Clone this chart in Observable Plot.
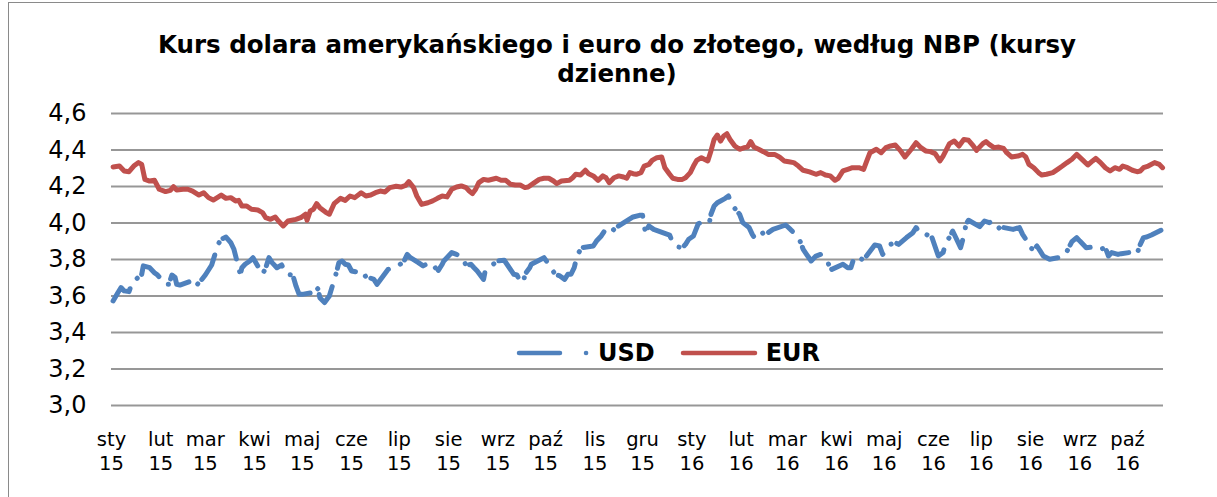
<!DOCTYPE html>
<html>
<head>
<meta charset="utf-8">
<script src="https://cdn.jsdelivr.net/npm/d3@7"></script>
<script src="https://cdn.jsdelivr.net/npm/@observablehq/plot@0.6"></script>
<style>
  html, body { margin: 0; padding: 0; background: #fff; }
  #wrap { position: relative; width: 1217px; height: 497px; overflow: hidden; background: #fff; }
  #frame { position: absolute; left: 8px; top: 2px; width: 1210px; height: 500px; border-left: 1px solid #8a8a8a; border-top: 1px solid #8a8a8a; box-sizing: border-box; pointer-events: none; }
  #title { position: absolute; left: 17px; top: 30px; width: 1200px; text-align: center; font-family: "DejaVu Sans", Verdana, sans-serif; font-weight: bold; font-size: 24.5px; line-height: 29px; color: #000; }
  #chart { position: absolute; left: 0; top: 90px; }
  #legend { position: absolute; top: 339px; left: 515px; font-family: "DejaVu Sans", Verdana, sans-serif; font-weight: bold; font-size: 24px; color: #000; display: flex; align-items: center; }
  #legend .item { display: flex; align-items: center; }
  #legend svg { display: block; }
</style>
</head>
<body>
<div id="wrap">
  <div id="title">Kurs dolara amerykańskiego i euro do złotego, według NBP (kursy<br>dzienne)</div>
  <div id="chart"></div>
  <div id="legend"></div>
  <div id="frame"></div>
</div>
<script>
// ---- data (days counted from 1 Jan 2015, rates in PLN) ----
const seriesNames = ["USD", "EUR"];
const seriesColors = ["#4F81BD", "#C0504D"];

const usdDay = [1,4,6,8,11,13,19,20,24,27,29,34,36,38,40,41,43,53,54,56,59,63,67,69,72,75,77,81,82,84,87,89,95,97,99,101,104,107,110,114,116,118,120,126,128,130,131,134,137,141,143,145,147,149,151,156,158,160,162,165,167,174,178,181,184,186,188,193,196,200,203,205,208,209,214,217,221,223,226,228,230,234,235,238,240,243,247,253,255,257,259,260,263,264,272,275,277,279,282,285,287,289,291,293,296,303,305,308,310,312,315,317,319,328,332,334,335,336,338,341,351,353,356,359,361,363,366,369,373,376,377,379,381,386,388,390,393,395,397,401,403,405,407,410,413,416,424,427,429,431,433,435,437,440,443,446,449,451,453,460,463,465,467,469,472,474,480,483,485,487,490,493,495,500,504,506,509,512,515,516,520,523,525,527,529,534,536,537,538,539,546,549,552,555,557,559,561,567,571,573,575,577,580,582,584,586,590,598,600,602,604,607,609,612,613,619,622,625,627,629,633,635,640,643,645,647,649,651,654,660];
const usdRate = [3.573,3.618,3.646,3.628,3.624,3.673,3.719,3.765,3.755,3.728,3.715,3.664,3.664,3.715,3.701,3.664,3.660,3.691,3.664,3.682,3.715,3.770,3.883,3.911,3.923,3.892,3.856,3.719,3.755,3.774,3.792,3.810,3.719,3.755,3.810,3.783,3.755,3.770,3.719,3.715,3.655,3.609,3.609,3.618,3.655,3.637,3.591,3.564,3.600,3.715,3.783,3.792,3.774,3.770,3.737,3.728,3.701,3.710,3.701,3.691,3.664,3.746,3.759,3.770,3.792,3.828,3.810,3.783,3.765,3.783,3.765,3.733,3.774,3.792,3.838,3.828,3.810,3.765,3.774,3.755,3.737,3.691,3.737,3.755,3.774,3.792,3.796,3.719,3.715,3.682,3.673,3.719,3.755,3.774,3.810,3.774,3.746,3.719,3.710,3.691,3.719,3.719,3.755,3.828,3.865,3.874,3.901,3.929,3.956,3.938,3.956,3.975,3.984,4.033,4.042,4.042,3.975,3.956,3.984,3.965,3.934,3.892,3.869,3.865,3.883,3.911,3.929,3.996,4.011,4.002,4.048,4.093,4.111,4.135,4.148,4.102,4.069,4.048,4.002,3.975,3.938,3.911,3.929,3.947,3.947,3.965,3.989,3.965,3.947,3.929,3.901,3.856,3.830,3.792,3.819,3.828,3.810,3.774,3.746,3.774,3.755,3.755,3.810,3.819,3.801,3.810,3.880,3.874,3.828,3.847,3.883,3.892,3.883,3.920,3.947,3.975,3.938,3.938,3.929,3.920,3.819,3.838,3.901,3.920,3.956,3.865,3.929,3.975,4.002,4.015,3.980,4.011,4.002,4.011,3.984,3.965,3.975,3.965,3.975,3.938,3.911,3.865,3.856,3.874,3.847,3.819,3.801,3.814,3.828,3.865,3.898,3.920,3.901,3.874,3.865,3.869,3.856,3.865,3.819,3.838,3.828,3.832,3.838,3.847,3.832,3.883,3.920,3.923,3.934,3.960];

const eurDay = [1,5,8,11,14,17,19,21,24,27,30,34,37,39,41,45,48,51,55,58,61,64,69,72,75,78,80,82,85,88,92,95,97,100,103,105,108,111,116,119,122,123,125,127,129,131,135,137,140,144,147,150,153,157,160,163,166,169,172,175,179,182,185,187,190,192,195,199,202,205,208,211,214,217,220,223,225,227,229,231,234,237,242,245,248,251,254,257,260,262,266,269,272,275,278,280,283,288,290,292,295,298,300,303,306,309,311,313,316,319,322,324,326,328,330,333,335,338,340,343,346,348,351,353,356,359,361,364,366,368,371,375,377,379,381,383,385,387,389,392,395,398,400,402,404,407,410,413,417,420,423,426,429,432,435,439,443,446,449,452,455,457,460,463,466,470,473,475,477,481,484,487,490,493,496,499,503,506,509,512,515,518,521,523,527,530,533,536,539,542,544,548,550,552,555,558,561,563,566,570,573,575,577,580,583,585,588,592,595,598,601,604,607,611,614,617,619,622,625,628,631,634,636,639,642,645,647,649,652,656,659,661];
const eurRate = [4.307,4.312,4.285,4.281,4.312,4.331,4.321,4.239,4.230,4.234,4.185,4.172,4.179,4.199,4.181,4.185,4.185,4.175,4.153,4.166,4.139,4.126,4.153,4.135,4.139,4.121,4.124,4.093,4.093,4.075,4.071,4.057,4.029,4.020,4.033,4.011,3.984,4.011,4.020,4.029,4.048,4.015,4.066,4.075,4.106,4.084,4.057,4.048,4.106,4.135,4.124,4.148,4.139,4.166,4.148,4.153,4.166,4.175,4.170,4.194,4.201,4.197,4.206,4.227,4.194,4.148,4.102,4.111,4.121,4.135,4.148,4.143,4.185,4.197,4.203,4.194,4.175,4.161,4.185,4.221,4.239,4.234,4.245,4.234,4.234,4.212,4.208,4.208,4.194,4.197,4.221,4.239,4.245,4.245,4.230,4.216,4.230,4.234,4.248,4.267,4.263,4.289,4.270,4.258,4.234,4.258,4.248,4.221,4.248,4.258,4.252,4.245,4.276,4.270,4.267,4.276,4.312,4.321,4.343,4.358,4.362,4.303,4.267,4.245,4.239,4.239,4.248,4.276,4.312,4.343,4.358,4.340,4.395,4.458,4.482,4.449,4.477,4.489,4.458,4.422,4.404,4.413,4.416,4.446,4.416,4.404,4.391,4.376,4.376,4.362,4.340,4.336,4.331,4.312,4.289,4.280,4.267,4.276,4.263,4.258,4.234,4.245,4.285,4.294,4.303,4.303,4.294,4.340,4.385,4.404,4.385,4.413,4.422,4.427,4.398,4.362,4.404,4.440,4.413,4.395,4.391,4.380,4.340,4.367,4.435,4.449,4.422,4.458,4.453,4.422,4.398,4.435,4.446,4.431,4.413,4.416,4.409,4.385,4.362,4.367,4.376,4.362,4.321,4.303,4.276,4.263,4.267,4.276,4.294,4.312,4.331,4.349,4.376,4.343,4.318,4.340,4.354,4.331,4.303,4.285,4.303,4.294,4.312,4.303,4.289,4.281,4.285,4.303,4.312,4.331,4.321,4.303];

const monthLabels = ["sty","lut","mar","kwi","maj","cze","lip","sie","wrz","paź","lis","gru"];
const yTicks = [3.0, 3.2, 3.4, 3.6, 3.8, 4.0, 4.2, 4.4, 4.6];

// ---- build table ----
const t0 = Date.UTC(2015, 0, 1);
const toDate = d => new Date(t0 + d * 864e5);
const usd = usdDay.map((d, i) => ({date: toDate(d), rate: usdRate[i]}));
const eur = eurDay.map((d, i) => ({date: toDate(d), rate: eurRate[i]}));
const monthTicks = d3.utcMonths(new Date(Date.UTC(2015,0,1)), new Date(Date.UTC(2016,9,2)));
const fmtComma = v => v.toFixed(1).replace(".", ",");

const font = '"DejaVu Sans", Verdana, sans-serif';

const chart = Plot.plot({
  width: 1217,
  height: 407,
  marginLeft: 111,
  marginRight: 54,
  marginTop: 23,
  marginBottom: 92,
  style: {fontFamily: font, background: "transparent", color: "#000"},
  x: {type: "utc", domain: [toDate(0), toDate(661.6)]},
  y: {domain: [3.0, 4.6]},
  marks: [
    Plot.gridY(yTicks, {stroke: "#979797", strokeOpacity: 1, strokeWidth: 2}),
    Plot.axisY({ticks: yTicks, tickFormat: fmtComma, tickSize: 0, tickPadding: 25, fontSize: 24, label: null}),
    Plot.axisX({ticks: monthTicks, tickSize: 0, tickPadding: 24,
      tickFormat: d => monthLabels[d.getUTCMonth()] + "\n" + String(d.getUTCFullYear()).slice(2),
      fontSize: 19.5, lineHeight: 1.22, label: null}),
    Plot.line(eur, {x: "date", y: "rate", stroke: seriesColors[1], strokeWidth: 5, strokeLinejoin: "round", strokeLinecap: "round"}),
    Plot.line(usd, {x: "date", y: "rate", stroke: seriesColors[0], strokeWidth: 5, strokeLinejoin: "round", strokeLinecap: "round", strokeDasharray: "28,13,0.1,6"})
  ]
});
document.getElementById("chart").appendChild(chart);

// ---- legend ----
const legend = document.getElementById("legend");
const dashes = ["41,26,0.1,30", null];
const sampleW = [78, 80];
const gapsAfter = ["24px", "0"];
const textGap = ["5px", "7px"];
seriesNames.forEach((name, i) => {
  const item = document.createElement("div");
  item.className = "item";
  item.style.marginRight = gapsAfter[i];
  const s = d3.create("svg").attr("width", sampleW[i]).attr("height", 12);
  s.append("line").attr("x1", 4).attr("x2", sampleW[i] - 4).attr("y1", 6).attr("y2", 6)
    .attr("stroke", seriesColors[i]).attr("stroke-width", 4.5).attr("stroke-linecap", "round")
    .attr("stroke-dasharray", dashes[i]);
  item.appendChild(s.node());
  const lab = document.createElement("span");
  lab.textContent = name;
  lab.style.marginLeft = textGap[i];
  item.appendChild(lab);
  legend.appendChild(item);
});
</script>
</body>
</html>
